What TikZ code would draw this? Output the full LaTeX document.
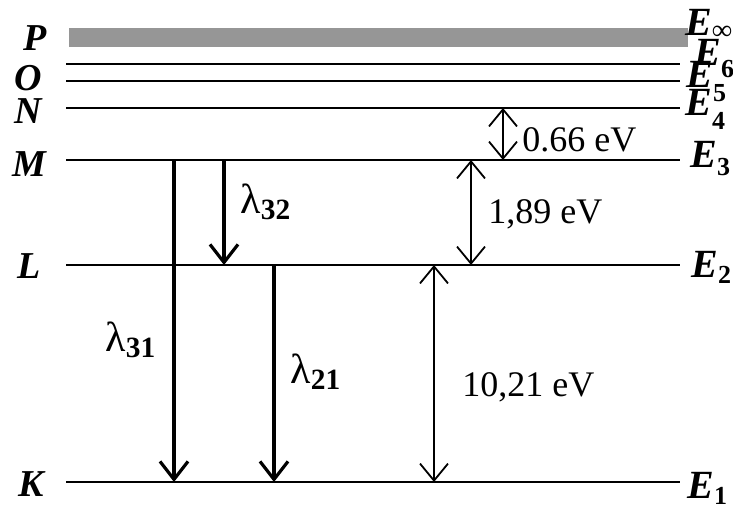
\documentclass[tikz,border=0pt]{standalone}
\usepackage{fontspec}
\setmainfont{Liberation Serif}
\usetikzlibrary{arrows.meta}
\definecolor{bandgray}{RGB}{150,150,150}
\newcommand\lowsub[3][13]{\raisebox{#2}{\fontsize{#1}{#1}\selectfont\upshape\bfseries #3}}

\begin{document}
\begin{tikzpicture}[x=0.5pt,y=-0.5pt,
    level/.style={line width=0.85pt},
    jump/.style={line width=1.6pt,-{Straight Barb[length=9pt,width=14pt,line width=1.6pt]}},
    gap/.style={line width=0.9pt,{Straight Barb[length=8.5pt,width=14pt,line width=0.9pt]}-{Straight Barb[length=8.5pt,width=14pt,line width=0.9pt]}},
    shell/.style={font=\fontsize{19}{19}\selectfont\bfseries\itshape,inner sep=0pt},
    energy/.style={font=\fontsize{20}{20}\selectfont\bfseries\itshape,anchor=base west,inner sep=0pt},
    wave/.style={font=\fontsize{21}{21}\selectfont,inner sep=0pt},
    value/.style={font=\fontsize{18}{18}\selectfont,anchor=west,inner sep=0pt}]
  \useasboundingbox (0,0) rectangle (733,515);

  % ionisation band
  \fill[bandgray] (69,28) rectangle (688,47);

  % levels
  \foreach \name/\y in {O6/64,O5/81,N/108,M/160,L/265,K/482}
    \draw[level] (66,\y) coordinate (\name l) -- (680,\y) coordinate (\name r);

  % shell letters
  \node[shell] (P) at (35,38) {P};
  \node[shell] (O) at (28,78) {O};
  \node[shell] (Nl) at (28,111) {N};
  \node[shell] (Ml) at (29,164) {M};
  \node[shell] (Ll) at (29,266) {L};
  \node[shell] (Kl) at (31,484) {K};

  % energies
  \node[energy] (Einf) at (685,35) {E\lowsub[14]{-2pt}{∞}};
  \node[energy] (E6) at (694,65) {E\lowsub{-6pt}{6}};
  \node[energy] (E5) at (686,87) {E\lowsub{-7pt}{5}};
  \node[energy] (E4) at (685,115) {E\lowsub{-7pt}{4}};
  \node[energy] (E3) at (690,167) {E\lowsub{-4pt}{3}};
  \node[energy] (E2) at (691,277) {E\lowsub{-3pt}{2}};
  \node[energy] (E1) at (687,498) {E\lowsub{-3pt}{1}};

  % transitions
  \coordinate (a31) at (174,160); \coordinate (b31) at (174,482);
  \coordinate (a32) at (224,160); \coordinate (b32) at (224,265);
  \coordinate (a21) at (274,265); \coordinate (b21) at (274,482);
  \draw[jump] (a31) -- (b31);
  \draw[jump] (a32) -- (b32);
  \draw[jump] (a21) -- (b21);
  \node[wave] (l31) at (131,340) {λ\textsubscript{\bfseries 31}};
  \node[wave] (l32) at (266,202) {λ\textsubscript{\bfseries 32}};
  \node[wave] (l21) at (316,372) {λ\textsubscript{\bfseries 21}};

  % energy gaps
  \coordinate (g1a) at (434,265); \coordinate (g1b) at (434,482);
  \coordinate (g2a) at (471,160); \coordinate (g2b) at (471,265);
  \coordinate (g3a) at (503,108); \coordinate (g3b) at (503,160);
  \draw[gap] (g1a) -- (g1b);
  \draw[gap] (g2a) -- (g2b);
  \draw[gap] (g3a) -- (g3b);
  \node[value] (v1) at (462,387) {10,21 eV};
  \node[value] (v2) at (488,214) {1,89 eV};
  \node[value] (v3) at (522,140) {0.66 eV};
\end{tikzpicture}
\end{document}
